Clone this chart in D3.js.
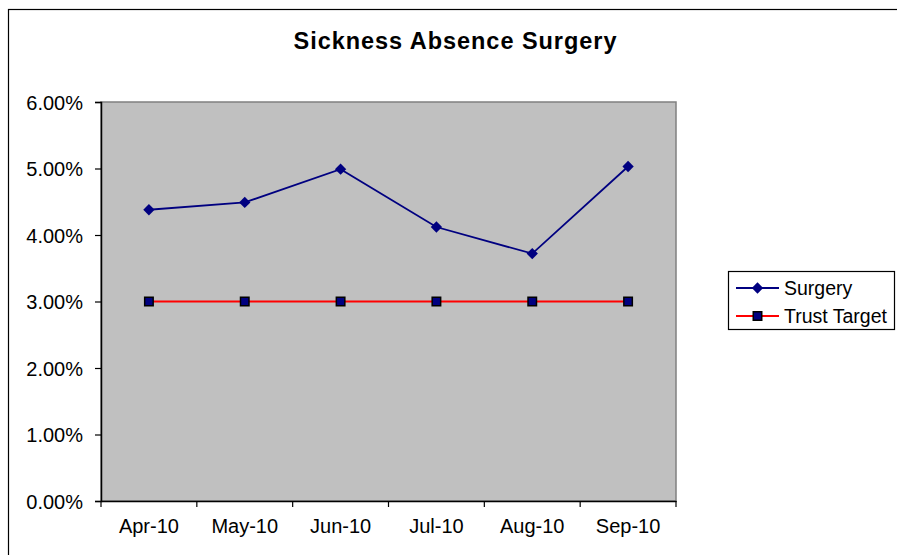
<!DOCTYPE html>
<html>
<head>
<meta charset="utf-8">
<script src="https://cdn.jsdelivr.net/npm/d3@7"></script>
<style>
  html, body { margin: 0; padding: 0; background: #fff; }
  svg { display: block; }
  text { font-family: "Liberation Sans", Arial, sans-serif; fill: #000; }
</style>
</head>
<body>
<svg id="chart" width="897" height="555"></svg>
<script>
// Monthly sickness absence rates (%) for Surgery against the trust target
const months = ["Apr-10", "May-10", "Jun-10", "Jul-10", "Aug-10", "Sep-10"];
const surgery = [4.38, 4.49, 4.99, 4.12, 3.72, 5.03];
const trustTarget = [3.00, 3.00, 3.00, 3.00, 3.00, 3.00];
const yTicks = [0, 1, 2, 3, 4, 5, 6];
const seriesNames = ["Surgery", "Trust Target"];

const svg = d3.select("#chart");
const plot = { left: 101, right: 676, top: 102, bottom: 501 };

// Outer chart frame
svg.append("rect")
  .attr("x", 8.5).attr("y", 9.5)
  .attr("width", 1000).attr("height", 1000)
  .attr("fill", "#fff").attr("stroke", "#000").attr("stroke-width", 1.2);

// Title
svg.append("text")
  .attr("x", 455).attr("y", 49)
  .attr("text-anchor", "middle")
  .attr("font-size", 23.5).attr("font-weight", "bold")
  .attr("textLength", 323).attr("lengthAdjust", "spacing")
  .text("Sickness Absence Surgery");

const x = d3.scaleBand().domain(months).range([plot.left, plot.right]);
const y = d3.scaleLinear().domain([0, 6]).range([plot.bottom, plot.top]);

// Plot area background
svg.append("rect")
  .attr("x", plot.left).attr("y", plot.top)
  .attr("width", plot.right - plot.left).attr("height", plot.bottom - plot.top)
  .attr("fill", "#C0C0C0").attr("stroke", "#808080").attr("stroke-width", 1.5);

// Y axis
const yAxis = svg.append("g")
  .attr("transform", `translate(${plot.left},0)`)
  .call(d3.axisLeft(y).tickValues(yTicks).tickSize(6).tickPadding(12)
    .tickFormat(d => d.toFixed(2) + "%"));
yAxis.select(".domain").attr("stroke", "#000").attr("stroke-width", 1.5);
yAxis.selectAll(".tick line").attr("stroke", "#000").attr("stroke-width", 1.2);
yAxis.selectAll(".tick text")
  .attr("font-size", 20).attr("font-family", "Liberation Sans, Arial, sans-serif")
  .attr("fill", "#000").attr("dy", "0.36em");

// X axis with ticks on category boundaries
const xAxis = svg.append("g")
  .attr("transform", `translate(0,${plot.bottom})`)
  .call(d3.axisBottom(x).tickSize(0).tickPadding(18));
xAxis.select(".domain").attr("stroke", "#000").attr("stroke-width", 1.5);
xAxis.selectAll(".tick text")
  .attr("font-size", 20).attr("font-family", "Liberation Sans, Arial, sans-serif")
  .attr("fill", "#000");
const boundaries = months.map(m => x(m)).concat([x.range()[1]]);
xAxis.selectAll(".bound")
  .data(boundaries).enter().append("line")
  .attr("x1", d => d).attr("x2", d => d)
  .attr("y1", 0).attr("y2", 6)
  .attr("stroke", "#000").attr("stroke-width", 1.2);

const cx = m => x(m) + x.bandwidth() / 2;
const line = d3.line().x((d, i) => cx(months[i])).y(d => y(d));

const diamond = d3.symbol().type(d3.symbolSquare).size(64);
const square = d3.symbol().type(d3.symbolSquare).size(72);

// Trust Target series
svg.append("path").datum(trustTarget)
  .attr("d", line).attr("fill", "none")
  .attr("stroke", "#FF0000").attr("stroke-width", 2);
svg.selectAll(".tt").data(trustTarget).enter().append("path")
  .attr("d", square)
  .attr("transform", (d, i) => `translate(${cx(months[i])},${y(d)})`)
  .attr("fill", "#000080").attr("stroke", "#000").attr("stroke-width", 1.5);

// Surgery series
svg.append("path").datum(surgery)
  .attr("d", line).attr("fill", "none")
  .attr("stroke", "#000080").attr("stroke-width", 1.8);
svg.selectAll(".sg").data(surgery).enter().append("path")
  .attr("d", diamond)
  .attr("transform", (d, i) => `translate(${cx(months[i])},${y(d)}) rotate(45)`)
  .attr("fill", "#000080");

// Legend
const legend = svg.append("g");
legend.append("rect")
  .attr("x", 728.5).attr("y", 271.5).attr("width", 166).attr("height", 58)
  .attr("fill", "#fff").attr("stroke", "#000").attr("stroke-width", 1.2);
const rows = [
  { name: seriesNames[0], color: "#000080", y: 288, sym: diamond, rot: 45, stroke: "none" },
  { name: seriesNames[1], color: "#FF0000", y: 316, sym: square, rot: 0, stroke: "#000" }
];
rows.forEach(r => {
  legend.append("line")
    .attr("x1", 736).attr("x2", 779).attr("y1", r.y).attr("y2", r.y)
    .attr("stroke", r.color).attr("stroke-width", 1.8);
  legend.append("path").attr("d", r.sym)
    .attr("transform", `translate(757.5,${r.y}) rotate(${r.rot})`)
    .attr("fill", "#000080").attr("stroke", r.stroke).attr("stroke-width", 1.5);
  legend.append("text")
    .attr("x", 784).attr("y", r.y + 7)
    .attr("font-size", 19.5).text(r.name);
});
</script>
</body>
</html>
